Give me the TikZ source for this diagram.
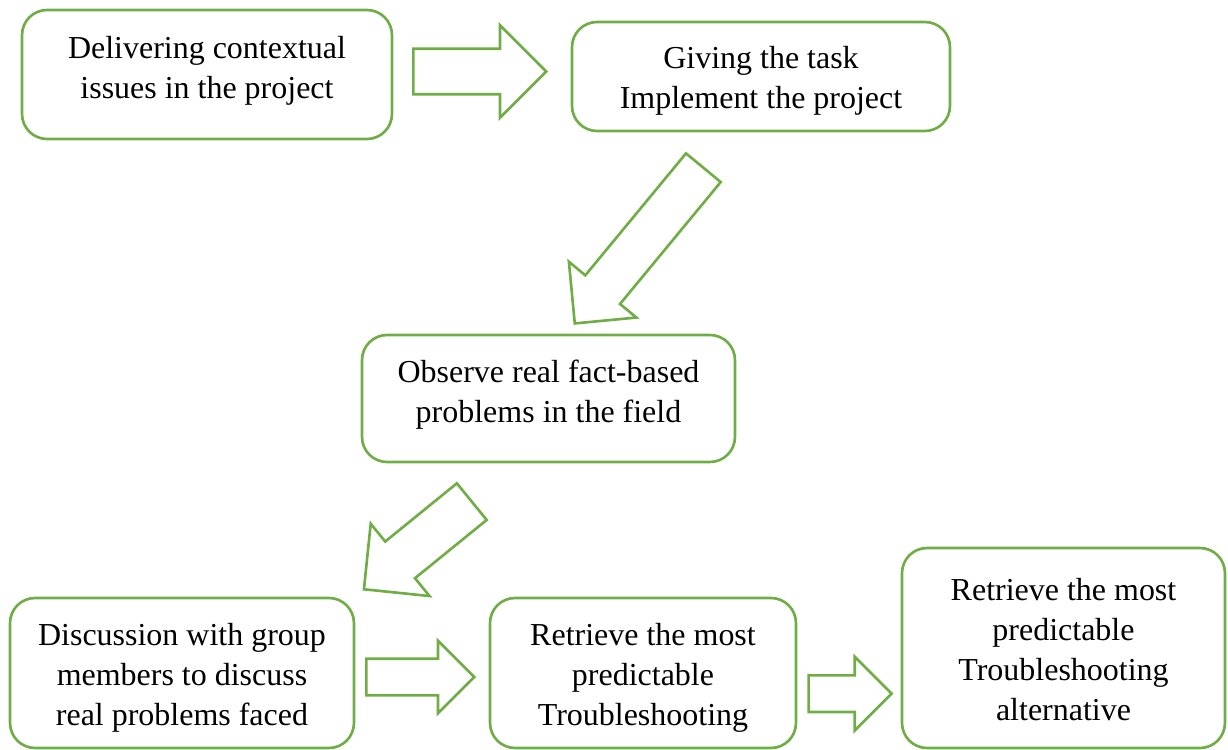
\documentclass[tikz,border=0pt]{standalone}
\usepackage{fontspec}
\setmainfont{Liberation Serif}
\usepackage{tikz}
\usetikzlibrary{shapes.arrows, positioning, calc}
\definecolor{boxgreen}{HTML}{70AD47}
% text lines of a stage, moved up or down inside its box
\newcommand{\stagetext}[2]{\raisebox{#1}[0pt][0pt]{\begin{tabular}{@{}c@{}}#2\end{tabular}}}

\begin{document}
\begin{tikzpicture}[x=0.02cm, y=-0.02cm,
    stagebox/.style={draw=boxgreen, line width=1.5pt, rounded corners=0.5cm,
        font=\fontsize{18.2pt}{22.7pt}\selectfont, inner sep=2pt},
    flowarrow/.style={single arrow, draw=boxgreen, line width=1.5pt, anchor=tail,
        inner xsep=0pt, single arrow tip angle=90, single arrow head indent=0pt}]
\useasboundingbox (0,0) rectangle (1228,750);

% Stages
\node[stagebox, minimum width=7.4cm, minimum height=2.58cm] (deliver) at (207,74.5)
    {\stagetext{-0.07cm}{Delivering contextual\\issues in the project}};
\node[stagebox, minimum width=7.56cm, minimum height=2.18cm] (task) at (761,76.5)
    {\stagetext{-0.24cm}{Giving the task\\Implement the project}};
\node[stagebox, minimum width=7.46cm, minimum height=2.54cm] (observe) at (548.5,398.5)
    {\stagetext{-0.07cm}{Observe real fact-based\\problems in the field}};
\node[stagebox, minimum width=6.88cm, minimum height=3cm] (discuss) at (182,673)
    {\stagetext{-0.24cm}{Discussion with group\\members to discuss\\real problems faced}};
\node[stagebox, minimum width=6.12cm, minimum height=3cm] (retrieve) at (643,673)
    {\stagetext{-0.24cm}{Retrieve the most\\predictable\\Troubleshooting}};
\node[stagebox, minimum width=6.46cm, minimum height=4cm] (alt) at (1063.5,648)
    {\stagetext{-0.24cm}{Retrieve the most\\predictable\\Troubleshooting\\alternative}};

% Block arrows between stages
\node[flowarrow, inner ysep=0.43cm, minimum height=2.66cm, minimum width=1.8cm,
    single arrow head extend=0.47cm] (a1) at (412,71.5) {};
\node[flowarrow, rotate=230.45, inner ysep=0.424cm, minimum height=4.04cm, minimum width=1.7cm,
    single arrow head extend=0.426cm] (a2) at (704.2,166.7) {};
\node[flowarrow, rotate=219.1, inner ysep=0.446cm, minimum height=2.78cm, minimum width=1.81cm,
    single arrow head extend=0.46cm] (a3) at (472.8,500.8) {};
\node[flowarrow, inner ysep=0.34cm, minimum height=2.16cm, minimum width=1.4cm,
    single arrow head extend=0.36cm] (a4) at (365,677) {};
\node[flowarrow, inner ysep=0.34cm, minimum height=1.66cm, minimum width=1.42cm,
    single arrow head extend=0.37cm] (a5) at (807.3,693.7) {};
\end{tikzpicture}
\end{document}
